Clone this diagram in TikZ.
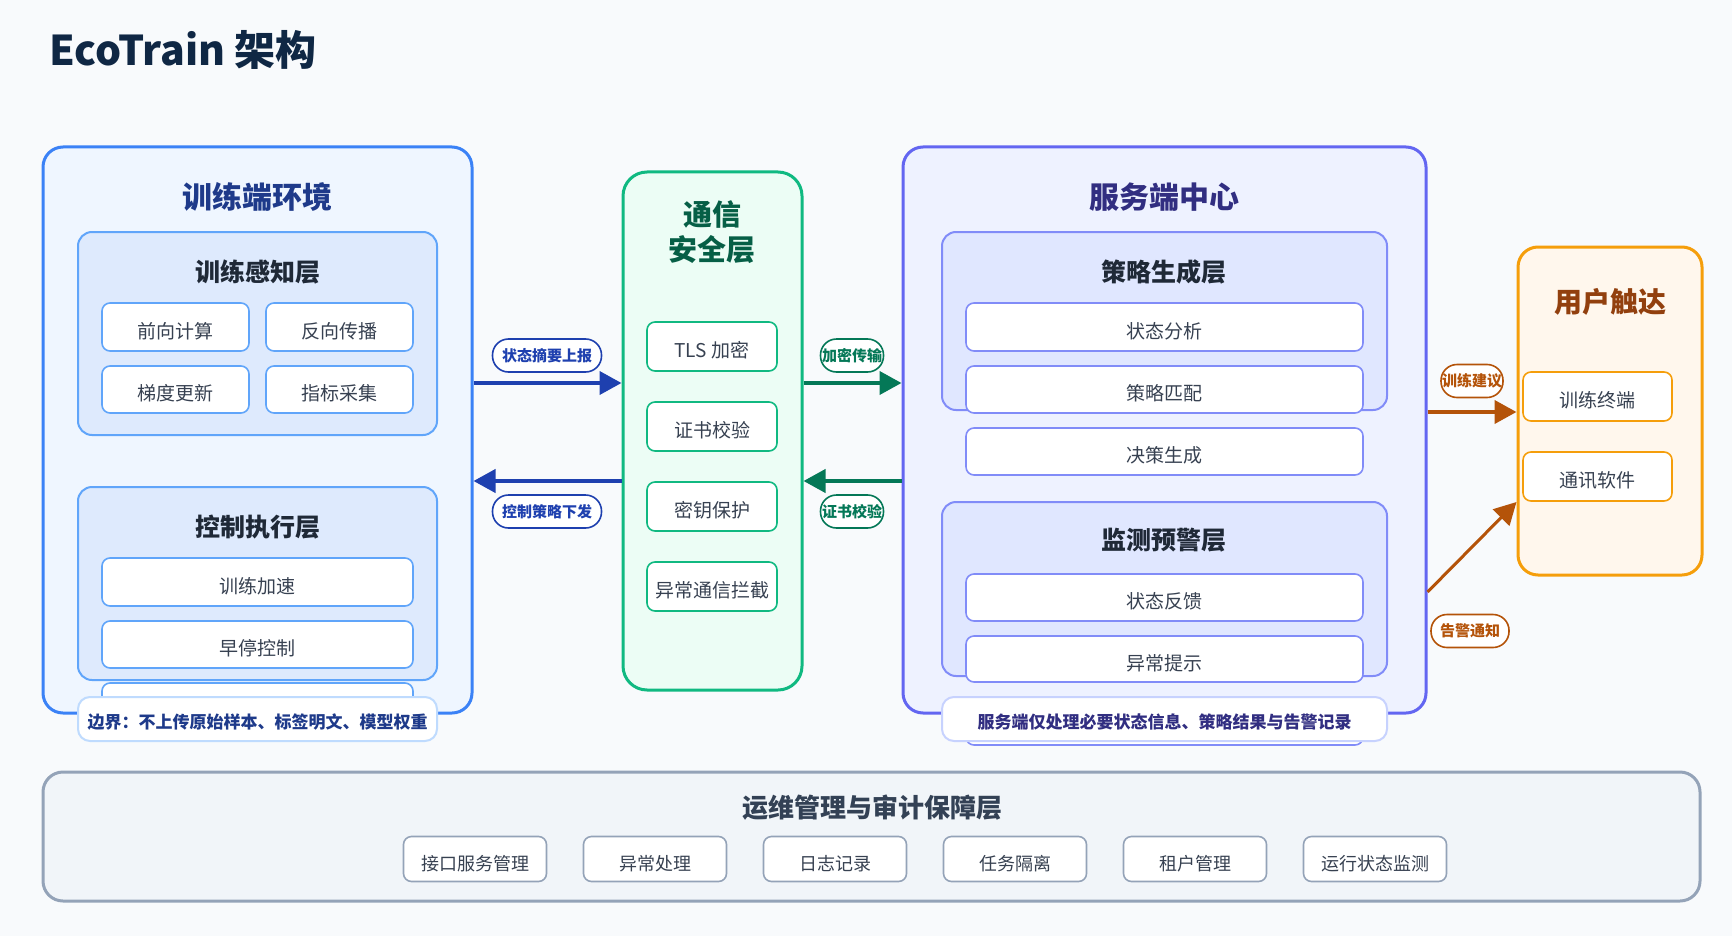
\documentclass[tikz,border=0pt]{standalone}
\usepackage{fontspec}
\setmainfont{Noto Sans CJK SC}
\usetikzlibrary{arrows.meta}
\definecolor{bgc}{HTML}{F8FAFC}
\definecolor{ink}{HTML}{0F2744}
\definecolor{boxtext}{HTML}{374151}
\definecolor{laytext}{HTML}{1F2937}
\definecolor{blueB}{HTML}{3B82F6}
\definecolor{blueF}{HTML}{EFF6FF}
\definecolor{blueL}{HTML}{60A5FA}
\definecolor{blueLf}{HTML}{DEEAFD}
\definecolor{blueT}{HTML}{1E3A8A}
\definecolor{blueA}{HTML}{1E40AF}
\definecolor{blueN}{HTML}{BFDBFE}
\definecolor{greenB}{HTML}{10B981}
\definecolor{greenF}{HTML}{ECFDF5}
\definecolor{greenT}{HTML}{065F46}
\definecolor{greenA}{HTML}{047857}
\definecolor{indB}{HTML}{6366F1}
\definecolor{indF}{HTML}{EEF2FF}
\definecolor{indL}{HTML}{818CF8}
\definecolor{indLf}{HTML}{E0E7FF}
\definecolor{indT}{HTML}{312E81}
\definecolor{indN}{HTML}{C7D2FE}
\definecolor{orB}{HTML}{F59E0B}
\definecolor{orF}{HTML}{FFF7ED}
\definecolor{orT}{HTML}{92400E}
\definecolor{orA}{HTML}{B45309}
\definecolor{slB}{HTML}{94A3B8}
\definecolor{slF}{HTML}{F1F5F9}
\definecolor{slT}{HTML}{334155}
\begin{document}
\begin{tikzpicture}[x=0.5pt,y=-0.5pt,
  envbox/.style={draw, line width=1.5pt, rounded corners=10pt, inner sep=0pt},
  envtitle/.style={font=\bfseries\fontsize{15}{17}\selectfont},
  layer/.style={draw, line width=1pt, rounded corners=7pt, inner sep=0pt},
  laytitle/.style={font=\bfseries\fontsize{12.5}{14}\selectfont, text=laytext},
  box/.style={draw, fill=white, line width=0.8pt, rounded corners=4pt, inner sep=0pt,
    text height=11.5pt, text depth=0.3pt,
    font=\fontsize{9.5}{11}\selectfont, text=boxtext},
  note/.style={draw, fill=white, line width=1pt, rounded corners=6pt, inner sep=0pt,
    text height=9.7pt, text depth=0.3pt,
    font=\bfseries\fontsize{8.5}{10}\selectfont},
  pill/.style={draw, fill=white, line width=0.8pt, rounded corners=8pt, inner sep=0pt,
    minimum height=16.5pt, font=\bfseries\fontsize{7.5}{9}\selectfont},
  flow/.style={line width=2pt, -{Triangle[length=11pt,width=11.5pt]}},
]
\useasboundingbox (0,0) rectangle (1732,936);
\fill[bgc] (0,0) rectangle (1732,936);

\node[anchor=west, font=\bfseries\fontsize{20.5}{23}\selectfont, text=ink] (title) at (42,50) {EcoTrain 架构};

% training side
\node[envbox, draw=blueB, fill=blueF, minimum width=214.5pt, minimum height=283pt] (envL) at (257.5,430) {};
\node[envtitle, text=blueT] (envLt) at (257,197) {训练端环境};
\node[layer, draw=blueL, fill=blueLf, minimum width=179.5pt, minimum height=101.5pt] (perc) at (257.5,333.5) {};
\node[laytitle] (percT) at (258,272) {训练感知层};
\node[box, draw=blueL, minimum width=73.5pt, minimum height=24pt] (fwd) at (175.5,327) {前向计算};
\node[box, draw=blueL, minimum width=73.5pt, minimum height=24pt] (bwd) at (339.5,327) {反向传播};
\node[box, draw=blueL, minimum width=73.5pt, minimum height=23.5pt] (grad) at (175.5,389.5) {梯度更新};
\node[box, draw=blueL, minimum width=73.5pt, minimum height=23.5pt] (metric) at (339.5,389.5) {指标采集};
\node[layer, draw=blueL, fill=blueLf, minimum width=179.5pt, minimum height=96.5pt] (ctrl) at (257.5,583.5) {};
\node[laytitle] (ctrlT) at (258,527) {控制执行层};
\node[box, draw=blueL, minimum width=155.5pt, minimum height=24pt] (accel) at (257.5,582) {训练加速};
\node[box, draw=blueL, minimum width=155.5pt, minimum height=23.5pt] (stop) at (257.5,644.5) {早停控制};
\node[box, draw=blueL, minimum width=155.5pt, minimum height=24pt] (ghostL) at (257.5,707) {};
\node[note, draw=blueN, text=blueT, minimum width=179.5pt, minimum height=22pt] (noteL) at (257.5,719) {边界：不上传原始样本、标签明文、模型权重};

% secure channel
\node[envbox, draw=greenB, fill=greenF, rounded corners=12pt, minimum width=89.5pt, minimum height=259pt] (comm) at (712.5,431) {};
\node[envtitle, text=greenT, align=center, font=\bfseries\fontsize{14.5}{17.5}\selectfont] (commT) at (712,232) {通信\\安全层};
\node[box, draw=greenB, minimum width=65pt, minimum height=24.5pt] (tls) at (712,346.5) {TLS 加密};
\node[box, draw=greenB, minimum width=65pt, minimum height=24.5pt] (cert) at (712,426.5) {证书校验};
\node[box, draw=greenB, minimum width=65pt, minimum height=24.5pt] (key) at (712,506.5) {密钥保护};
\node[box, draw=greenB, minimum width=65pt, minimum height=24.5pt] (block) at (712,586.5) {异常通信拦截};

% server side
\node[envbox, draw=indB, fill=indF, minimum width=261.5pt, minimum height=283pt] (srv) at (1164.5,430) {};
\node[envtitle, text=indT] (srvT) at (1164,197) {服务端中心};
\node[layer, draw=indL, fill=indLf, minimum width=222.5pt, minimum height=89pt] (strat) at (1164.5,321) {};
\node[laytitle] (stratT) at (1164,272) {策略生成层};
\node[box, draw=indL, minimum width=198.5pt, minimum height=24pt] (sA) at (1164.5,327) {状态分析};
\node[box, draw=indL, minimum width=198.5pt, minimum height=23.5pt] (sB) at (1164.5,389.5) {策略匹配};
\node[box, draw=indL, minimum width=198.5pt, minimum height=23.5pt] (sC) at (1164.5,451.5) {决策生成};
\node[layer, draw=indL, fill=indLf, minimum width=222.5pt, minimum height=87pt] (mon) at (1164.5,589) {};
\node[laytitle] (monT) at (1164,540) {监测预警层};
\node[box, draw=indL, minimum width=198.5pt, minimum height=23.5pt] (mA) at (1164.5,597.5) {状态反馈};
\node[box, draw=indL, minimum width=198.5pt, minimum height=23pt] (mB) at (1164.5,659) {异常提示};
\node[box, draw=indL, minimum width=198.5pt, minimum height=24pt] (ghostR) at (1164.5,721) {};
\node[note, draw=indN, text=indT, minimum width=222.5pt, minimum height=22pt] (noteR) at (1164.5,719) {服务端仅处理必要状态信息、策略结果与告警记录};

% user reach
\node[envbox, draw=orB, fill=orF, minimum width=92pt, minimum height=164pt] (user) at (1610,411) {};
\node[envtitle, text=orT, font=\bfseries\fontsize{14}{16}\selectfont] (userT) at (1610,302) {用户触达};
\node[box, draw=orB, minimum width=74.5pt, minimum height=24.5pt] (term) at (1597.5,396.5) {训练终端};
\node[box, draw=orB, minimum width=74.5pt, minimum height=24.5pt] (im) at (1597.5,476.5) {通讯软件};

% flows
\coordinate (rowUp) at (0,383);
\coordinate (rowDn) at (0,481);
\coordinate (rowAdv) at (0,412);
\coordinate (alarmS) at (0,592);
\coordinate (alarmE) at (0,502);
\draw[flow, blueA] (envL.east |- rowUp) -- (comm.west |- rowUp);
\draw[flow, blueA] (comm.west |- rowDn) -- (envL.east |- rowDn);
\draw[flow, greenA] (comm.east |- rowUp) -- (srv.west |- rowUp);
\draw[flow, greenA] (srv.west |- rowDn) -- (comm.east |- rowDn);
\draw[flow, orA] (srv.east |- rowAdv) -- (user.west |- rowAdv);
\draw[flow, orA, line width=1.5pt] (srv.east |- alarmS) -- (user.west |- alarmE);
\node[pill, draw=blueA, text=blueA, minimum width=54.5pt] (lUp) at (547,355.5) {状态摘要上报};
\node[pill, draw=blueA, text=blueA, minimum width=54.5pt] (lDn) at (547,511.5) {控制策略下发};
\node[pill, draw=greenA, text=greenA, minimum width=31.5pt] (lEnc) at (852,355.5) {加密传输};
\node[pill, draw=greenA, text=greenA, minimum width=31.5pt] (lCert) at (852,511.5) {证书校验};
\node[pill, draw=orA, text=orA, minimum width=31pt] (lAdv) at (1472,381) {训练建议};
\node[pill, draw=orA, text=orA, minimum width=39pt] (lAlarm) at (1470,631) {告警通知};

% ops band
\node[envbox, draw=slB, fill=slF, minimum width=828.5pt, minimum height=64.5pt] (ops) at (871.5,836.5) {};
\node[laytitle, text=slT, font=\bfseries\fontsize{13}{15}\selectfont] (opsT) at (872,808) {运维管理与审计保障层};
\node[box, draw=slB, font=\fontsize{9}{11}\selectfont, minimum width=71.5pt, minimum height=22.5pt] (op1) at (475,859) {接口服务管理};
\node[box, draw=slB, font=\fontsize{9}{11}\selectfont, minimum width=71.5pt, minimum height=22.5pt] (op2) at (655,859) {异常处理};
\node[box, draw=slB, font=\fontsize{9}{11}\selectfont, minimum width=71.5pt, minimum height=22.5pt] (op3) at (835,859) {日志记录};
\node[box, draw=slB, font=\fontsize{9}{11}\selectfont, minimum width=71.5pt, minimum height=22.5pt] (op4) at (1015,859) {任务隔离};
\node[box, draw=slB, font=\fontsize{9}{11}\selectfont, minimum width=71.5pt, minimum height=22.5pt] (op5) at (1195,859) {租户管理};
\node[box, draw=slB, font=\fontsize{9}{11}\selectfont, minimum width=71.5pt, minimum height=22.5pt] (op6) at (1375,859) {运行状态监测};
\end{tikzpicture}
\end{document}
